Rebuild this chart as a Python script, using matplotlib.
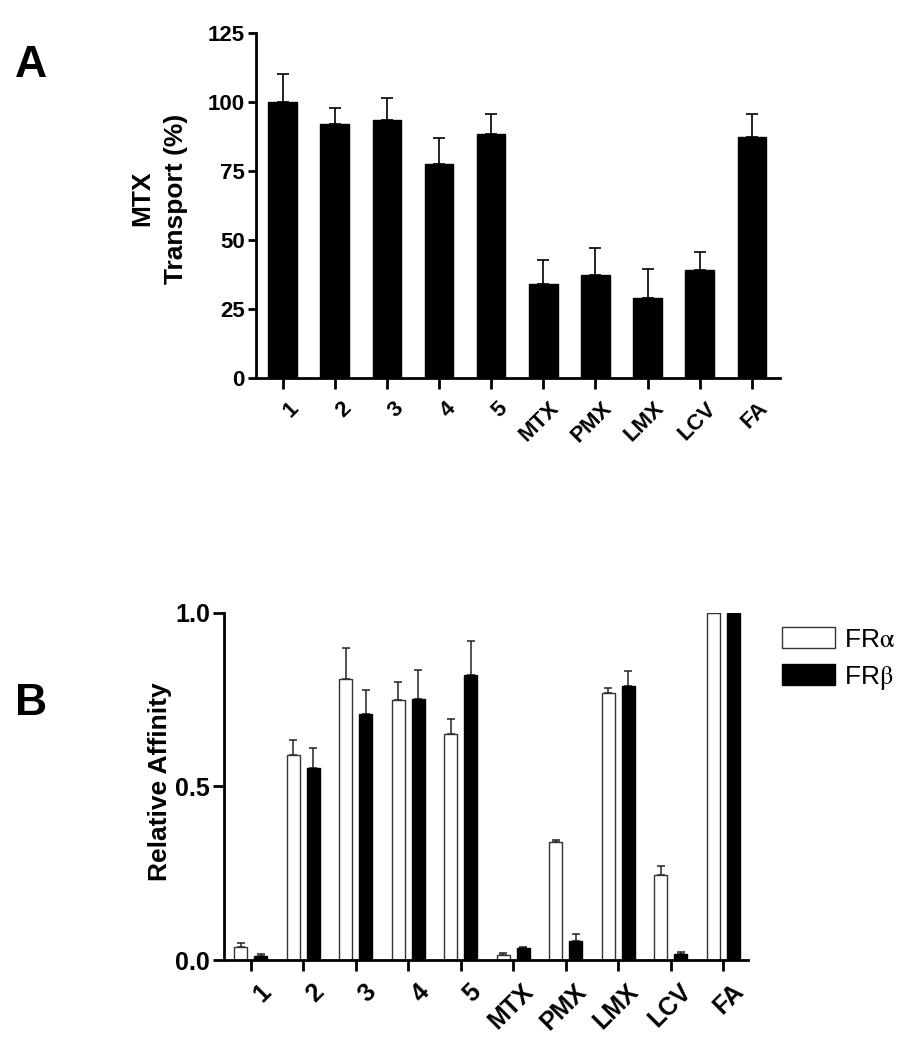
import numpy as np
import matplotlib
matplotlib.use('Agg')
import matplotlib.pyplot as plt
import matplotlib.transforms as mtransforms

plt.rcParams['font.family'] = ['Liberation Sans', 'DejaVu Sans']
plt.rcParams['mathtext.fontset'] = 'stix'

# ---- data
compounds = ['1', '2', '3', '4', '5', 'MTX', 'PMX', 'LMX', 'LCV', 'FA']

# panel A : MTX transport (%)
transport = [100, 92, 93.5, 77.5, 88.5, 34, 37.5, 29, 39.2, 87.5]
transport_err = [10, 5.7, 8, 9.5, 7, 9, 9.5, 10.5, 6.6, 8.3]

# panel B : relative affinity
fra = [0.038, 0.59, 0.809, 0.75, 0.65, 0.015, 0.339, 0.768, 0.246, 1.0]
fra_err = [0.01, 0.043, 0.088, 0.05, 0.045, 0.004, 0.006, 0.014, 0.026, 0]
frb = [0.012, 0.553, 0.709, 0.751, 0.82, 0.035, 0.056, 0.789, 0.018, 1.0]
frb_err = [0.004, 0.058, 0.068, 0.085, 0.099, 0.002, 0.019, 0.044, 0.006, 0]

W, H = 910, 1050
fig = plt.figure(figsize=(W / 100, H / 100), dpi=100)


def style_axis(ax, ysize, xsize, shift):
    ax.spines['top'].set_visible(False)
    ax.spines['right'].set_visible(False)
    ax.spines['left'].set_linewidth(2)
    ax.spines['bottom'].set_linewidth(2)
    ax.tick_params(axis='y', direction='out', length=6, width=2, pad=2,
                   labelsize=ysize)
    ax.tick_params(axis='x', direction='out', length=8, width=2, pad=6,
                   labelsize=xsize)
    for t in ax.get_yticklabels():
        t.set_fontweight('bold')
    # nudge the rotated labels to the right
    offset = mtransforms.ScaledTranslation(shift / 72, 0, fig.dpi_scale_trans)
    for t in ax.get_xticklabels():
        t.set_transform(t.get_transform() + offset)


# ---------------- panel A
axA = fig.add_axes([256 / W, 1 - 378.3 / H, 524 / W, 345.3 / H])
x = np.arange(len(compounds))
axA.bar(x, transport, width=0.55, color='black', edgecolor='black', zorder=2)
axA.errorbar(x, transport, yerr=[np.zeros(len(x)), transport_err], fmt='none',
             ecolor='black', elinewidth=1.2, capsize=4, capthick=1.2, zorder=1)
axA.set_xlim(-0.51, 9.54)
axA.set_ylim(0, 125)
axA.set_yticks([0, 25, 50, 75, 100, 125])
axA.set_xticks(x)
axA.set_xticklabels(compounds, rotation=45, ha='right', va='top',
                    rotation_mode='anchor', fontweight='bold')
style_axis(axA, 16, 16, 4)
axA.set_ylabel('MTX\nTransport (%)', fontsize=19, fontweight='bold',
               linespacing=1.5)
axA.yaxis.set_label_coords(-0.13, 0.52)

# ---------------- panel B
axB = fig.add_axes([224 / W, 1 - 960 / H, 524.3 / W, 347.3 / H])
off, bw = 0.19, 0.25
axB.bar(x - off, fra, width=bw, color='white', edgecolor='#333333',
        linewidth=1, zorder=2, label=r'FR$\mathrm{\alpha}$')
axB.bar(x + off, frb, width=bw, color='black', edgecolor='black',
        linewidth=1, zorder=2, label=r'FR$\mathrm{\beta}$')
ia = [i for i in range(len(x)) if fra_err[i] > 0]
ib = [i for i in range(len(x)) if frb_err[i] > 0]
axB.errorbar(x[ia] - off, np.array(fra)[ia],
             yerr=[np.zeros(len(ia)), np.array(fra_err)[ia]], fmt='none',
             ecolor='#222222', elinewidth=1.1, capsize=3, capthick=1.1, zorder=1)
axB.errorbar(x[ib] + off, np.array(frb)[ib],
             yerr=[np.zeros(len(ib)), np.array(frb_err)[ib]], fmt='none',
             ecolor='#222222', elinewidth=1.1, capsize=3, capthick=1.1, zorder=1)
axB.set_xlim(-0.51, 9.48)
axB.set_ylim(0, 1.0)
axB.set_yticks([0.0, 0.5, 1.0])
axB.set_yticklabels(['0.0', '0.5', '1.0'])
axB.set_xticks(x)
axB.set_xticklabels(compounds, rotation=45, ha='right', va='top',
                    rotation_mode='anchor', fontweight='bold')
style_axis(axB, 18, 18, 6)
axB.tick_params(axis='y', length=8)
axB.set_ylabel('Relative Affinity', fontsize=19, fontweight='bold')
axB.yaxis.set_label_coords(-0.099, 0.513)

axB.legend(loc='upper left', bbox_to_anchor=(782 / W, 1 - 627 / H),
           bbox_transform=fig.transFigure, frameon=False, fontsize=19,
           handlelength=2.0, handleheight=0.85, handletextpad=0.35,
           labelspacing=0.45, borderpad=0, borderaxespad=0)

# panel letters
fig.text(15 / W, 1 - 77 / H, 'A', fontsize=32, fontweight='bold', va='baseline')
fig.text(15 / W, 1 - 715 / H, 'B', fontsize=32, fontweight='bold', va='baseline')

fig.savefig('out.png', dpi=100)
